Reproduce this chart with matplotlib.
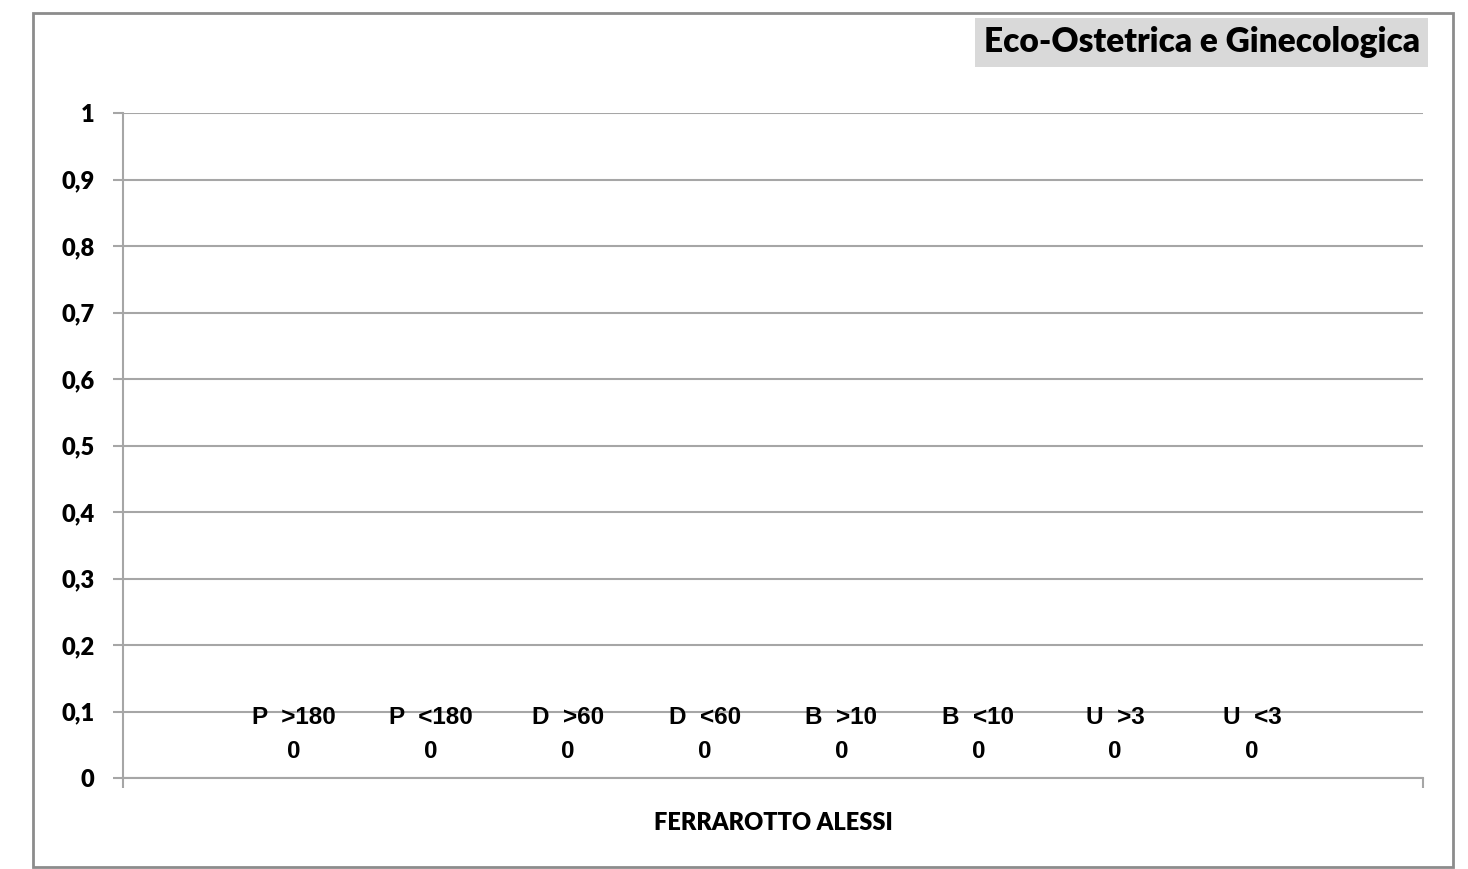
import matplotlib
matplotlib.use("Agg")
import matplotlib.pyplot as plt
from matplotlib.patches import Rectangle
from matplotlib.ticker import FuncFormatter, FixedLocator

series_names = ["P  >180", "P  <180", "D  >60", "D  <60", "B  >10", "B  <10", "U  >3", "U  <3"]
series_values = [0, 0, 0, 0, 0, 0, 0, 0]
category = "FERRAROTTO ALESSI"
title = "Eco-Ostetrica e Ginecologica"
y_ticks = [0, 0.1, 0.2, 0.3, 0.4, 0.5, 0.6, 0.7, 0.8, 0.9, 1]
colors = ["#4F81BD", "#C0504D", "#9BBB59", "#8064A2", "#4BACC6", "#F79646", "#2C4D75", "#772C2A"]

W, H = 1468, 869
fig = plt.figure(figsize=(W / 100, H / 100), dpi=100)
fig.patch.set_facecolor("white")

# outer chart border
fig.patches.append(Rectangle((33 / W, 1 - 867 / H), (1453 - 33) / W, (867 - 13) / H,
                             transform=fig.transFigure, fill=False,
                             edgecolor="#8c8c8c", linewidth=2))

ax = fig.add_axes([123 / W, 1 - 778 / H, (1423 - 123) / W, (778 - 113) / H])

n = len(series_names)
bw = 1 / (n + 1.5)
grid_c = "#a6a6a6"
for i, (name, v) in enumerate(zip(series_names, series_values)):
    x = (i - (n - 1) / 2) * bw
    ax.bar(x, v, width=bw, color=colors[i])
    ax.annotate(f"{name}\n{v:g}", (x, v), xytext=(0, 31.5), textcoords="offset points",
                ha="center", va="center", fontsize=17.5, fontweight="bold",
                family="Liberation Sans", linespacing=1.6)

ax.set_xlim(-0.5, 0.5)
ax.set_ylim(0, 1)
ax.set_yticks(y_ticks)
ax.yaxis.set_major_formatter(FuncFormatter(lambda v, p: f"{v:g}".replace(".", ",")))
ax.xaxis.set_major_locator(FixedLocator([-0.5, 0.5]))
ax.set_xticklabels(["", ""])
ax.grid(axis="y", color=grid_c, linewidth=1.5)
ax.set_axisbelow(True)
for s in ["top", "right"]:
    ax.spines[s].set_visible(False)
for s in ["left", "bottom"]:
    ax.spines[s].set_color(grid_c)
    ax.spines[s].set_linewidth(1.5)
ax.tick_params(axis="y", length=7, width=1.5, color=grid_c, pad=13.5)
ax.tick_params(axis="x", length=7, width=1.5, color=grid_c, direction="out")
for lab in ax.get_yticklabels():
    lab.set_fontweight("heavy")
    lab.set_fontsize(17)
    lab.set_family("Lato")

fig.text(773 / W, 1 - 823 / H, category, ha="center", va="center",
         fontsize=17, fontweight="heavy", family="Lato")

fig.text(1201.5 / W, 1 - 42.5 / H, title, ha="center", va="center",
         fontsize=24, fontweight="heavy", family="Lato",
         bbox=dict(boxstyle="square,pad=0.25", facecolor="#d9d9d9", edgecolor="none"))

fig.savefig("out.png", dpi=100, facecolor="white")
